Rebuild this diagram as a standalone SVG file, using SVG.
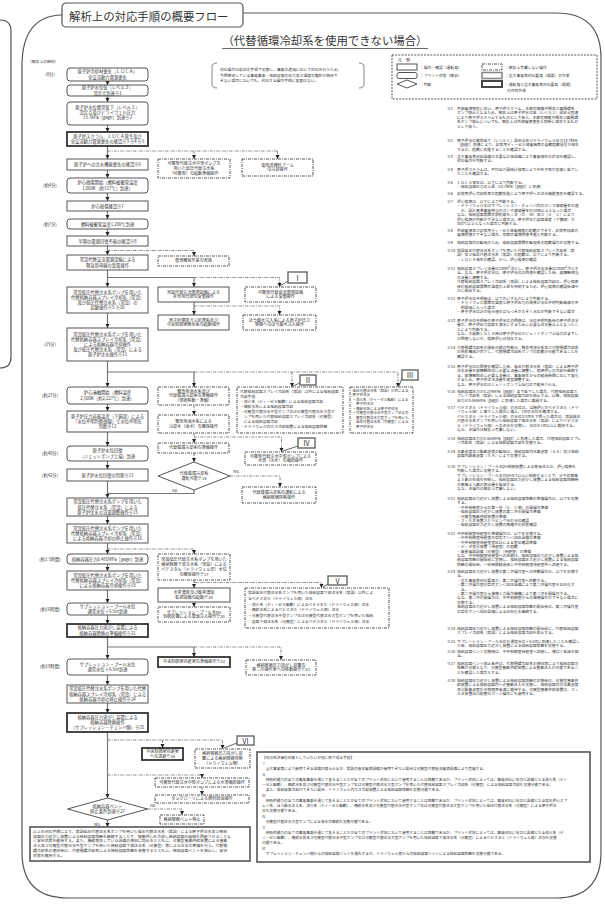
<svg xmlns="http://www.w3.org/2000/svg" width="605" height="911" viewBox="0 0 605 911">
<defs>
<marker id="ar" viewBox="0 0 6 6" refX="6" refY="3" markerWidth="4.5" markerHeight="4.5" orient="auto" markerUnits="userSpaceOnUse"><path d="M0,0L6,3L0,6z" fill="#222"/></marker>
<style>
text{font-family:"Noto Sans CJK JP","Noto Sans",sans-serif;fill:#333}
.b{fill:#fff;stroke:#555;stroke-width:1}
.t{fill:#fff;stroke:#333;stroke-width:1.8}
.g{fill:#fff;stroke:#888;stroke-width:1.6}
.d{fill:#fff;stroke:#444;stroke-width:.9;stroke-dasharray:3 1 1 1}
.c{fill:none;stroke:#777;stroke-width:1.2}
.cd{fill:none;stroke:#888;stroke-width:1;stroke-dasharray:3 1.2 1 1.2}
.ca{marker-end:url(#ar)}
.bt{font-size:4.3px;text-anchor:middle}
.st{font-size:4.1px;text-anchor:middle}
.nt{font-size:3.8px}
.bn{font-size:3.7px}
.tm{font-size:4.2px;text-anchor:middle}
.lb{font-size:7px;text-anchor:middle}
.lbx{fill:#fff;stroke:#666;stroke-width:1.4}
.fr{fill:none;stroke:#555;stroke-width:1.2}
</style>
</defs>

<g id="frame">
<path class="fr" d="M0,20 Q11,20 11,31 V357 Q11,368 0,368"/>
<path class="fr" d="M243,13 H556 Q601,13 601,58 V852 Q601,898 556,898 H68 Q22,898 22,852 V66 Q22,16 62,15"/>
<rect x="62" y="3" width="181" height="24" rx="4" fill="#fff" stroke="#555" stroke-width="1.2"/>
<text x="69" y="20.5" style="font-size:11.4px">解析上の対応手順の概要フロー</text>
<text x="325" y="45" style="font-size:11.4px;text-anchor:middle">（代替循環冷却系を使用できない場合）</text>
<line x1="222" y1="48.5" x2="428" y2="48.5" stroke="#444" stroke-width=".8"/>
</g>

<g id="note-top">
<path d="M217,63 Q212,63 212,67 V84 Q212,88 217,88" fill="none" stroke="#666" stroke-width=".8"/>
<path d="M359,63 Q364,63 364,67 V84 Q364,88 359,88" fill="none" stroke="#666" stroke-width=".8"/>
<text class="nt"><tspan x="220" y="71">対応操作は前述の手順で実施し、事象の進展に応じて対応を行うため、</tspan><tspan x="220" dy="5.5">今回想定している事故事象・格納容器の圧力及び温度の推移が特定で</tspan><tspan x="220" dy="5.5">きない場合においても、対応する操作手順に変更はない。</tspan></text>
</g>

<g id="legend">
<rect x="392" y="55" width="205" height="44" fill="none" stroke="#444" stroke-width=".9" stroke-dasharray="2 1.2"/>
<text x="398" y="61.5" style="font-size:4px">凡　例</text>
<rect x="397" y="64" width="20" height="6" class="b"/>
<rect x="397" y="72.5" width="20" height="6" rx="2" class="b"/>
<path d="M397,84 L407,80 L417,84 L407,88 Z" class="b"/>
<rect x="482" y="64" width="20" height="6" class="d"/>
<rect x="482" y="72.5" width="20" height="6" class="g"/>
<rect x="482" y="81" width="20" height="6" class="t"/>
<text class="nt"><tspan x="420" y="68.5">：操作・確認（運転員）</tspan><tspan x="420" y="77">：プラント状態（解析）</tspan><tspan x="420" y="85.5">：判断</tspan><tspan x="505" y="68.5">：解析上考慮しない操作</tspan><tspan x="505" y="77">：重大事故等対応要員（現場）の作業</tspan><tspan x="505" y="85.5">：運転員と重大事故等対応要員（現場）</tspan><tspan x="507" y="92">の共同作業</tspan></text>
</g>

<g id="time-labels">
<text x="28" y="63" style="font-size:3.8px">（解析上の時刻）</text>
<text class="tm" x="50" y="76">（0分）</text>
<text class="tm" x="50" y="187">（約4分）</text>
<text class="tm" x="50" y="226">（約7分）</text>
<text class="tm" x="50" y="346">（25分）</text>
<text class="tm" x="50" y="397">（約27分）</text>
<text class="tm" x="50" y="455">（約40分）</text>
<text class="tm" x="50" y="477">（約42分）</text>
<text class="tm" x="50" y="561">（約1.5時間）</text>
<text class="tm" x="50" y="611">（約16時間）</text>
<text class="tm" x="50" y="668">（約19時間）</text>
</g>

<g id="connectors">
<path class="c ca" d="M107.5,81V85"/>
<path class="c ca" d="M107.5,96V102"/>
<path class="c ca" d="M107.5,125V132"/>
<path class="c ca" d="M107.5,146V159"/>
<path class="c ca" d="M107.5,170V178"/>
<path class="c ca" d="M107.5,193V201"/>
<path class="c ca" d="M107.5,211V219"/>
<path class="c ca" d="M107.5,229V236"/>
<path class="c ca" d="M107.5,246V255"/>
<path class="c ca" d="M107.5,270V287"/>
<path class="c ca" d="M107.5,313V328"/>
<path class="c ca" d="M107.5,361V387"/>
<path class="c ca" d="M107.5,404V411"/>
<path class="c ca" d="M107.5,432V446"/>
<path class="c ca" d="M107.5,461V469"/>
<path class="c ca" d="M107.5,481V498"/>
<path class="c ca" d="M107.5,516V524"/>
<path class="c ca" d="M107.5,543V554"/>
<path class="c ca" d="M107.5,564V571"/>
<path class="c ca" d="M107.5,590V603"/>
<path class="c ca" d="M107.5,615V624"/>
<path class="c ca" d="M107.5,637V659"/>
<path class="c ca" d="M107.5,675V685"/>
<path class="c ca" d="M107.5,703V713"/>
<path class="c ca" d="M107.5,732V798"/>
<path class="c ca" d="M107.5,820V827"/>
<path class="cd" d="M107.5,151H277.5"/>
<path class="cd ca" d="M194,151V159"/>
<path class="cd ca" d="M277.5,151V159"/>
<path class="cd ca" d="M107.5,250.5H194V256"/>
<path class="c ca" d="M107.5,277.5H194V287"/>
<path class="cd ca" d="M194,277.5H279.5V287"/>
<path class="c ca" d="M194,302V315"/>
<path class="cd ca" d="M194,306H279.5V315"/>
<path class="c ca" d="M107.5,372H194V387"/>
<path class="cd ca" d="M194,372H398V387"/>
<path class="cd ca" d="M292,372V387"/>
<path class="cd ca" d="M194,405V415"/>
<path class="cd ca" d="M194,433V443"/>
<path class="cd ca" d="M194,437H281.5V452"/>
<path class="cd ca" d="M194,453V462"/>
<path class="c" d="M194,490V493.5H107.5"/>
<path class="cd ca" d="M230,476H280V487"/>
<path class="cd ca" d="M107.5,549H194V554"/>
<path class="cd ca" d="M194,580V588"/>
<path class="cd ca" d="M194,582.5H321.5V588"/>
<path class="cd ca" d="M194,602V607"/>
<path class="c ca" d="M107.5,647H194V657"/>
<path class="cd ca" d="M194,647H281V660"/>
<path class="cd ca" d="M107.5,740H222.5V749"/>
<path class="cd ca" d="M162.5,740V748"/>
<path class="cd ca" d="M107.5,775H202V778"/>
<path class="cd ca" d="M202,787V795"/>
<path class="cd ca" d="M147.5,809H182V815"/>
<path d="M288,281L280,286 M300,383L293,386 M402,378L399,386 M298,446L283,451 M328,584L323,587 M237,743L224,748" fill="none" stroke="#555" stroke-width=".9"/>
<text x="172" y="491.5" style="font-size:3.8px">No</text>
<text x="233" y="473" style="font-size:3.8px">Yes</text>
<text x="150" y="806.5" style="font-size:3.8px">No</text>
<text x="94" y="825.5" style="font-size:3.8px">Yes</text>
</g>

<g id="n-b1"><rect x="67" y="68" width="81" height="13" rx="3" class="b"/><text class="bt"><tspan x="107.5" y="73.45">原子炉冷却材喪失（ＬＯＣＡ）</tspan><tspan x="107.5" y="78.55">全交流動力電源喪失</tspan></text></g>
<g id="n-b2"><rect x="67" y="85" width="81" height="11" rx="3" class="b"/><text class="bt"><tspan x="107.5" y="89.45">原子炉水位低（レベル３）</tspan><tspan x="107.5" y="94.55">設定点到達※1</tspan></text></g>
<g id="n-b3"><rect x="67" y="102" width="81" height="23" rx="3" class="b"/><text class="bt"><tspan x="107.5" y="108.9">原子炉水位異常低下（レベル１）</tspan><tspan x="107.5" y="114">設定点及びドライウェル圧力</tspan><tspan x="107.5" y="119.1">13.7kPa［gage］到達※2</tspan></text></g>
<g id="n-b4"><rect x="67" y="132" width="81" height="14" class="t"/><text class="bt"><tspan x="107.5" y="137.95">原子炉スクラム、ＬＯＣＡ発生及び</tspan><tspan x="107.5" y="143.05">全交流動力電源喪失の確認※3 ※4 ※5</tspan></text></g>
<g id="n-b5"><rect x="67" y="159" width="81" height="11" class="b"/><text class="bt" x="107.5" y="166">原子炉への注水機能喪失の確認※6</text></g>
<g id="n-b6"><rect x="67" y="178" width="81" height="15" rx="3" class="b"/><text class="bt"><tspan x="107.5" y="184.45">炉心損傷開始（燃料被覆管温度</tspan><tspan x="107.5" y="189.55">1,000K（約727℃）到達）</tspan></text></g>
<g id="n-b7"><rect x="67" y="201" width="81" height="10" class="b"/><text class="bt" x="107.5" y="207.5">炉心損傷確認※7</text></g>
<g id="n-b8"><rect x="67" y="219" width="81" height="10" rx="3" class="b"/><text class="bt" x="107.5" y="225.5">燃料被覆管温度1,200℃到達</text></g>
<g id="n-b9"><rect x="67" y="236" width="81" height="10" class="b"/><text class="bt" x="107.5" y="242.5">早期の電源回復不能の確認※8</text></g>
<g id="n-b10"><rect x="67" y="255" width="81" height="15" class="b"/><text class="bt"><tspan x="107.5" y="261.45">常設代替交流電源設備による</tspan><tspan x="107.5" y="266.55">緊急用母線の受電操作</tspan></text></g>
<g id="n-b11"><rect x="67" y="287" width="81" height="26" class="b"/><text class="bt"><tspan x="107.5" y="293.85">常設低圧代替注水系ポンプを用いた</tspan><tspan x="107.5" y="298.95">代替格納容器スプレイ冷却系（常設）</tspan><tspan x="107.5" y="304.05">及び低圧代替注水系（常設）の</tspan><tspan x="107.5" y="309.15">起動操作※9 ※10</tspan></text></g>
<g id="n-b12"><rect x="67" y="328" width="81" height="33" class="b"/><text class="bt"><tspan x="107.5" y="335.8">常設低圧代替注水系ポンプを用いた</tspan><tspan x="107.5" y="340.9">代替格納容器スプレイ冷却系（常設）</tspan><tspan x="107.5" y="346">による格納容器冷却操作</tspan><tspan x="107.5" y="351.1">及び低圧代替注水系（常設）による</tspan><tspan x="107.5" y="356.2">原子炉注水操作※11</tspan></text></g>
<g id="n-b13"><rect x="67" y="387" width="81" height="17" rx="3" class="b"/><text class="bt"><tspan x="107.5" y="394.45">炉心溶融開始（燃料温度</tspan><tspan x="107.5" y="399.55">2,500K（約2,227℃）到達）</tspan></text></g>
<g id="n-b14"><rect x="67" y="411" width="81" height="21" class="b"/><text class="bt"><tspan x="107.5" y="417.9">原子炉圧力容器温度（下鏡部）による</tspan><tspan x="107.5" y="423">「水位不明判断曲線」で水位不明を</tspan><tspan x="107.5" y="428.1">判断※12</tspan></text></g>
<g id="n-b15"><rect x="67" y="446" width="81" height="15" rx="3" class="b"/><text class="bt"><tspan x="107.5" y="452.45">原子炉水位回復</tspan><tspan x="107.5" y="457.55">（ジェットポンプ上端）到達</tspan></text></g>
<g id="n-b16"><rect x="67" y="469" width="81" height="12" class="b"/><text class="bt" x="107.5" y="476.5">原子炉水位回復の判断※13</text></g>
<g id="n-b17"><rect x="67" y="498" width="81" height="18" class="b"/><text class="bt"><tspan x="107.5" y="503.4">常設低圧代替注水系ポンプを用いた</tspan><tspan x="107.5" y="508.5">低圧代替注水系（常設）による</tspan><tspan x="107.5" y="513.6">原子炉注水の流量調整操作※15</tspan></text></g>
<g id="n-b18"><rect x="67" y="524" width="81" height="19" class="b"/><text class="bt"><tspan x="107.5" y="529.9">常設低圧代替注水系ポンプを用いた</tspan><tspan x="107.5" y="535">代替格納容器スプレイ冷却系（常設）</tspan><tspan x="107.5" y="540.1">による格納容器冷却の停止操作※16</tspan></text></g>
<g id="n-b19"><rect x="67" y="554" width="81" height="10" rx="3" class="b"/><text class="bt" x="107.5" y="560.5">格納容器圧力0.465MPa［gage］到達</text></g>
<g id="n-b20"><rect x="67" y="571" width="81" height="19" class="b"/><text class="bt"><tspan x="107.5" y="576.9">常設低圧代替注水系ポンプを用いた</tspan><tspan x="107.5" y="582">代替格納容器スプレイ冷却系（常設）</tspan><tspan x="107.5" y="587.1">による格納容器冷却操作※18</tspan></text></g>
<g id="n-b21"><rect x="67" y="603" width="81" height="12" rx="3" class="b"/><text class="bt"><tspan x="107.5" y="607.95">サプレッション・プール水位</tspan><tspan x="107.5" y="613.05">通常水位＋5.5m到達</tspan></text></g>
<g id="n-b22"><rect x="67" y="624" width="81" height="13" class="t"/><text class="bt"><tspan x="107.5" y="629.45">格納容器圧力逃がし装置による</tspan><tspan x="107.5" y="634.55">格納容器除熱の準備操作※21</tspan></text></g>
<g id="n-b23"><rect x="67" y="659" width="81" height="16" rx="3" class="b"/><text class="bt"><tspan x="107.5" y="665.95">サプレッション・プール水位</tspan><tspan x="107.5" y="671.05">通常水位＋6.5m到達</tspan></text></g>
<g id="n-b24"><rect x="67" y="685" width="81" height="18" class="b"/><text class="bt"><tspan x="107.5" y="690.4">常設低圧代替注水系ポンプを用いた代替</tspan><tspan x="107.5" y="695.5">格納容器スプレイ冷却系（常設）による</tspan><tspan x="107.5" y="700.6">格納容器冷却の停止操作※24</tspan></text></g>
<g id="n-b25"><rect x="67" y="713" width="81" height="19" class="t"/><text class="bt"><tspan x="107.5" y="718.9">格納容器圧力逃がし装置による</tspan><tspan x="107.5" y="724">格納容器除熱操作</tspan><tspan x="107.5" y="729.1">（サプレッション・チェンバ側）※25</tspan></text></g>
<g id="n-d2"><path d="M107.5,798 L147.5,809 L107.5,820 L67.5,809 Z" class="b"/><text class="bt"><tspan x="107.5" y="808">格納容器ベント</tspan><tspan x="107.5" y="812.9">停止条件到達※27</tspan></text></g>
<g id="n-final"><rect x="30" y="827" width="220" height="34" fill="#fff" stroke="#555" stroke-width="1.6"/><text style="font-size:3.9px"><tspan x="33" y="833">以上の対応手順により、常設低圧代替注水系ポンプを用いた低圧代替注水系（常設）による原子炉注水及び格納</tspan><tspan x="33" dy="4.7">容器圧力逃がし装置による格納容器除熱を継続することで、損傷炉心を冷却し格納容器の破損を回避させることな</tspan><tspan x="33" dy="4.7">く安定状態を維持する。また、機能喪失している設備の復旧に努めるとともに、可搬型窒素供給装置による窒素</tspan><tspan x="33" dy="4.7">注入及び可搬型代替注水中型ポンプを用いた格納容器下部注水系（可搬型）等による注水の準備を行う。代替循</tspan><tspan x="33" dy="4.7">環冷却系の復旧後は、代替循環冷却系による格納容器除熱を実施するとともに、格納容器ベントを停止し、安定</tspan><tspan x="33" dy="4.7">状態を維持する。</tspan></text></g>

<g id="n-rd1"><rect x="158" y="159" width="72" height="19" class="d"/><text class="st"><tspan x="194" y="165.05">可搬型代替注水中型ポンプを</tspan><tspan x="194" y="169.95">用いた低圧代替注水系</tspan><tspan x="194" y="174.85">（可搬型）の起動準備操作</tspan></text></g>
<g id="n-rd2"><rect x="242" y="159" width="71" height="17" class="d"/><text class="st"><tspan x="277.5" y="166.5">使用済燃料プール</tspan><tspan x="277.5" y="171.4">の冷却操作</tspan></text></g>
<g id="n-rd3"><rect x="158" y="256" width="71" height="10" class="d"/><text class="st" x="193.5" y="262.45">電源確保作業の実施</text></g>
<g id="n-rb1"><rect x="158" y="287" width="71" height="15" class="b"/><text class="st"><tspan x="193.5" y="293.5">常設代替交流電源設備による</tspan><tspan x="193.5" y="298.4">非常用母線の受電操作</tspan></text></g>
<g id="n-rd4"><rect x="245" y="287" width="71" height="15" class="d"/><text class="st"><tspan x="280.5" y="293.5">可搬型代替直流電源設備</tspan><tspan x="280.5" y="298.4">による受電操作</tspan></text></g>
<g id="n-rb2"><rect x="158" y="315" width="71" height="15" class="b"/><text class="st"><tspan x="193.5" y="321.5">原子炉建屋ガス処理系及び</tspan><tspan x="193.5" y="326.4">中央制御室換気系の起動操作</tspan></text></g>
<g id="n-rd5"><rect x="243" y="315" width="73" height="15" class="d"/><text class="st"><tspan x="279.5" y="321.5">ほう酸水注入系による原子炉圧力</tspan><tspan x="279.5" y="326.4">容器へのほう酸水注入操作</tspan></text></g>
<g id="n-rd6"><rect x="158" y="387" width="71" height="18" class="d"/><text class="st"><tspan x="193.5" y="392.55">緊急用海水系及び</tspan><tspan x="193.5" y="397.45">代替循環冷却系の準備操作</tspan><tspan x="193.5" y="402.35">（現場移動・準備）</tspan></text></g>
<g id="n-rd7"><rect x="158" y="415" width="71" height="18" class="d"/><text class="st"><tspan x="193.5" y="423">緊急用海水系による</tspan><tspan x="193.5" y="427.9">冷却水（海水）の確保操作</tspan></text></g>
<g id="n-rd8"><rect x="158" y="443" width="71" height="10" class="d"/><text class="st" x="193.5" y="449.45">代替循環冷却系の準備操作</text></g>
<g id="n-d1"><path d="M194,462 L230,476 L194,490 L158,476 Z" class="b"/><text class="st"><tspan x="194" y="475">代替循環冷却系</tspan><tspan x="194" y="479.9">運転可能※14</tspan></text></g>
<g id="n-rd9"><rect x="242" y="487" width="74" height="16" class="d"/><text class="st"><tspan x="279" y="494">代替循環冷却系の運転による</tspan><tspan x="279" y="498.9">格納容器除熱操作</tspan></text></g>
<g id="n-rd10"><rect x="245" y="452" width="71" height="13" class="d"/><text class="st"><tspan x="280.5" y="457.5">可搬型代替注水中型ポンプによる</tspan><tspan x="280.5" y="462.4">水源（淡水）の補給操作</tspan></text></g>
<g id="n-rd11"><rect x="237" y="387" width="106" height="46" class="d"/><text class="nt"><tspan x="240" y="392.5">代替格納容器スプレイ冷却系（常設）以外による格納容器</tspan><tspan x="240" dy="5">冷却手段</tspan><tspan x="240" dy="5">・消火系（ディーゼル駆動）による格納容器冷却</tspan><tspan x="240" dy="5">・補給水系による格納容器冷却</tspan><tspan x="240" dy="5">・可搬型代替注水中型ポンプ又は可搬型代替注水大型ポ</tspan><tspan x="240" dy="5">　ンプを用いた代替格納容器スプレイ冷却系（可搬型）</tspan><tspan x="240" dy="5">　による格納容器冷却</tspan><tspan x="240" dy="5">・ドライウェル内ガス冷却装置による格納容器除熱</tspan></text></g>
<g id="n-rd12"><rect x="350" y="387" width="63" height="46" class="d"/><text style="font-size:3.5px"><tspan x="352.5" y="391.5">低圧代替注水系（常設）以外による</tspan><tspan x="352.5" dy="4.55">原子炉注水</tspan><tspan x="352.5" dy="4.55">・消火系（ディーゼル駆動）による</tspan><tspan x="352.5" dy="4.55">　原子炉注水</tspan><tspan x="352.5" dy="4.55">・補給水系による原子炉注水</tspan><tspan x="352.5" dy="4.55">・可搬型代替注水中型ポンプ又は可</tspan><tspan x="352.5" dy="4.55">　搬型代替注水大型ポンプを用いた</tspan><tspan x="352.5" dy="4.55">　低圧代替注水系（可搬型）による</tspan><tspan x="352.5" dy="4.55">　原子炉注水</tspan></text></g>
<g id="n-rd13"><rect x="158" y="554" width="72" height="26" class="d"/><text class="st"><tspan x="194" y="561.1">常設低圧代替注水系ポンプを用いた</tspan><tspan x="194" y="566">格納容器下部注水系（常設）による</tspan><tspan x="194" y="570.9">ペデスタル（ドライウェル部）水位</tspan><tspan x="194" y="575.8">の確保操作※17</tspan></text></g>
<g id="n-rb3"><rect x="158" y="588" width="72" height="14" class="b"/><text class="st"><tspan x="194" y="594">水素濃度及び酸素濃度</tspan><tspan x="194" y="598.9">監視設備の起動※19</tspan></text></g>
<g id="n-rd14"><rect x="158" y="607" width="72" height="15" class="d"/><text class="st"><tspan x="194" y="613.5">サプレッション・プール水pH</tspan><tspan x="194" y="618.4">制御装置による薬液注入操作※20</tspan></text></g>
<g id="n-rd15"><rect x="245" y="588" width="144" height="40" class="d"/><text class="nt"><tspan x="248" y="594">常設低圧代替注水系ポンプを用いた格納容器下部注水系（常設）以外によ</tspan><tspan x="248" dy="5.8">るペデスタル（ドライウェル部）注水</tspan><tspan x="248" dy="5.8">・消火系（ディーゼル駆動）によるペデスタル（ドライウェル部）注水</tspan><tspan x="248" dy="5.8">・補給水系によるペデスタル（ドライウェル部）注水</tspan><tspan x="248" dy="5.8">・可搬型代替注水中型ポンプ又は可搬型代替注水大型ポンプを用いた格納</tspan><tspan x="248" dy="5.8">　容器下部注水系（可搬型）によるペデスタル（ドライウェル部）注水</tspan></text></g>
<g id="n-rs"><rect x="158" y="657" width="72" height="10" class="t"/><text class="st" x="194" y="663.45">中央制御室待避室の準備操作※22</text></g>
<g id="n-rd16"><rect x="246" y="660" width="70" height="15" class="d"/><text class="st"><tspan x="281" y="666.5">格納容器圧力逃がし装置の</tspan><tspan x="281" y="671.4">第二弁操作室への移動操作※23</tspan></text></g>
<g id="n-s1"><rect x="142" y="748" width="41" height="12" class="t"/><text class="st"><tspan x="162.5" y="753">中央制御室待避室</tspan><tspan x="162.5" y="757.9">への退避※26</tspan></text></g>
<g id="n-s2"><rect x="195" y="749" width="55" height="19" class="d"/><text class="st"><tspan x="222.5" y="755.05">格納容器圧力逃がし装</tspan><tspan x="222.5" y="759.95">置による格納容器除熱</tspan><tspan x="222.5" y="764.85">（ドライウェル側）</tspan></text></g>
<g id="n-s3"><rect x="155" y="778" width="94" height="9" class="d"/><text class="st" x="202" y="783.95">可搬型代替注水中型ポンプによる水源補給操作</text></g>
<g id="n-s4"><rect x="155" y="795" width="94" height="8" class="d"/><text class="st" x="202" y="800.45">タンクローリによる燃料給油操作</text></g>
<g id="n-stop"><rect x="160" y="815" width="44" height="9" class="d"/><text class="st" x="182" y="820.95">格納容器ベント停止</text></g>

<g id="labels">
<rect x="288" y="272" width="19" height="11" class="lbx"/><text class="lb" x="297.5" y="280.5">Ⅰ</text>
<rect x="300" y="375" width="16" height="10" class="lbx"/><text class="lb" x="308" y="383">Ⅱ</text>
<rect x="402" y="370" width="16" height="10" class="lbx"/><text class="lb" x="410" y="378">Ⅲ</text>
<rect x="298" y="438" width="17" height="10" class="lbx"/><text class="lb" x="306.5" y="446">Ⅳ</text>
<rect x="328" y="576" width="19" height="9" class="lbx"/><text class="lb" x="337.5" y="583.5">Ⅴ</text>
<rect x="237" y="736" width="17" height="9" class="lbx"/><text class="lb" x="245.5" y="743.5">Ⅵ</text>
</g>

<g id="notes">
<text class="nt"><tspan x="447" y="110">※1</tspan><tspan x="457" y="110">外部電源喪失に伴い、原子炉スクラム、主蒸気隔離弁閉及び再循環系</tspan><tspan x="457" dy="4.4">ポンプ停止となるため、解析上は原子炉水位低（レベル３）設定点到達</tspan><tspan x="457" dy="4.4">により原子炉スクラムするものとして扱う。主蒸気隔離弁閉及び再循環</tspan><tspan x="457" dy="4.4">系ポンプ停止についても、解析上は外部電源喪失と同時に発生するもの</tspan><tspan x="457" dy="4.4">として扱う。</tspan></text>
<text class="nt"><tspan x="447" y="142">※2</tspan><tspan x="457" y="142">原子炉水位異常低下（レベル１）設定点及びドライウェル圧力13.7kPa</tspan><tspan x="457" dy="4.4">［gage］到達により、非常用ディーゼル発電機等の自動起動信号が発生</tspan><tspan x="457" dy="4.4">するが、起動に失敗することを確認する。</tspan></text>
<text class="nt"><tspan x="447" y="158">※3</tspan><tspan x="457" y="158">重大事故等対処設備の主要な計装設備により事象発生の状況を確認し、</tspan><tspan x="457" dy="4.4">対応操作を判断する。</tspan></text>
<text class="nt"><tspan x="447" y="171">※4</tspan><tspan x="457" y="171">原子炉スクラムは、平均出力領域計装等により中性子束が急激に低下し</tspan><tspan x="457" dy="4.4">たことを確認する。</tspan></text>
<text class="nt"><tspan x="447" y="184">※5</tspan><tspan x="457" y="184">ＬＯＣＡ発生は、以下により判断する。</tspan><tspan x="457" dy="4.4">・格納容器圧力の上昇（13.7kPa［gage］に到達）</tspan></text>
<text class="nt"><tspan x="447" y="195">※6</tspan><tspan x="457" y="195">非常用炉心冷却系等の起動失敗により原子炉への注水機能喪失を確認する。</tspan></text>
<text class="nt"><tspan x="447" y="203">※7</tspan><tspan x="457" y="203">炉心損傷は、以下により判断する。</tspan><tspan x="457" dy="4.4">・ドライウェル又はサプレッション・チェンバ内のガンマ線線量率の値</tspan><tspan x="457" dy="4.4">　が、設計基準事故相当のガンマ線線量率の10倍以上となった場合</tspan><tspan x="457" dy="4.4">なお、格納容器雰囲気放射線モニタ（Ｄ／Ｗ）及び（Ｓ／Ｃ）により</tspan><tspan x="457" dy="4.4">炉心損傷の判断ができない場合は、原子炉圧力容器温度（下鏡部）が</tspan><tspan x="457" dy="4.4">300℃以上となった場合に判断する。</tspan></text>
<text class="nt"><tspan x="447" y="232">※8</tspan><tspan x="457" y="232">外部電源及び非常用ディーゼル発電機等の起動ができず、非常用母線の</tspan><tspan x="457" dy="4.4">電源回復ができない場合、早期の電源回復不能と判断する。</tspan></text>
<text class="nt"><tspan x="447" y="244">※9</tspan><tspan x="457" y="244">格納容器内の監視のため、格納容器雰囲気監視系の起動操作を実施する。</tspan></text>
<text class="nt"><tspan x="447" y="252">※10</tspan><tspan x="457" y="252">常設低圧代替注水系ポンプを用いた代替格納容器スプレイ冷却系（常</tspan><tspan x="457" dy="4.4">設）及び低圧代替注水系（常設）の起動は、以下により判断する。</tspan><tspan x="457" dy="4.4">・ＬＯＣＡ発生の確認、かつ、炉心損傷の確認</tspan></text>
<text class="nt"><tspan x="447" y="270">※11</tspan><tspan x="457" y="270">格納容器スプレイ流量は130m³/hとし、原子炉注水流量は230m³/hとす</tspan><tspan x="457" dy="4.4">る。なお、原子炉注水は、原子炉水位の回復を確認した後、崩壊熱相当</tspan><tspan x="457" dy="4.4">の流量に調整する。</tspan><tspan x="457" dy="4.4">代替格納容器スプレイ冷却系（常設）による格納容器冷却は、炉心損傷</tspan><tspan x="457" dy="4.4">後の格納容器雰囲気温度の上昇を抑制するため、炉心損傷の確認後速や</tspan><tspan x="457" dy="4.4">かに開始する。</tspan></text>
<text class="nt"><tspan x="447" y="300">※12</tspan><tspan x="457" y="300">原子炉水位不明時は、以下のいずれかにより判断する。</tspan><tspan x="457" dy="4.4">・ドライウェル雰囲気温度と原子炉圧力の関係が水位不明判断曲線の不</tspan><tspan x="457" dy="4.4">　明領域に入った場合</tspan><tspan x="457" dy="4.4">・原子炉水位計の指示値のばらつきが大きく水位が判断できない場合</tspan></text>
<text class="nt"><tspan x="447" y="322">※13</tspan><tspan x="457" y="322">原子炉水位不明時の原子炉水位の回復は、水位不明判断後の原子炉注水</tspan><tspan x="457" dy="4.4">量が、原子炉圧力容器を満水にするために必要な注水量以上となったこ</tspan><tspan x="457" dy="4.4">とにより判断する。</tspan><tspan x="457" dy="4.4">なお、大破断ＬＯＣＡ時は原子炉水位がジェットポンプ上端付近までし</tspan><tspan x="457" dy="4.4">か回復しないが、損傷炉心は冠水する。</tspan></text>
<text class="nt"><tspan x="447" y="349">※14</tspan><tspan x="457" y="349">代替循環冷却系の運転可能の判断は、緊急用海水系及び代替循環冷却系</tspan><tspan x="457" dy="4.4">の系統構成が完了し、代替循環冷却系ポンプの起動が可能であることを</tspan><tspan x="457" dy="4.4">確認する。</tspan></text>
<text class="nt"><tspan x="447" y="368">※15</tspan><tspan x="457" y="368">原子炉水位の回復を確認した後、低圧代替注水系（常設）による原子炉</tspan><tspan x="457" dy="4.4">注水流量を崩壊熱除去に必要な流量に調整し、損傷炉心の冷却を継続す</tspan><tspan x="457" dy="4.4">る。崩壊熱除去に必要な流量は、事象発生からの経過時間に応じて変化</tspan><tspan x="457" dy="4.4">するため、原子炉注水流量を適宜調整する。</tspan><tspan x="457" dy="4.4">なお、原子炉水位はジェットポンプ上端付近で維持される。</tspan></text>
<text class="nt"><tspan x="447" y="393">※16</tspan><tspan x="457" y="393">格納容器圧力が0.279MPa［gage］まで低下した場合、代替格納容器ス</tspan><tspan x="457" dy="4.4">プレイ冷却系（常設）による格納容器冷却を停止する。以降、格納容器</tspan><tspan x="457" dy="4.4">圧力が0.465MPa［gage］に到達した場合に再開する。</tspan></text>
<text class="nt"><tspan x="447" y="409">※17</tspan><tspan x="457" y="409">ペデスタル（ドライウェル部）の水位は、溶融炉心がペデスタル（ドラ</tspan><tspan x="457" dy="4.4">イウェル部）に落下した場合に備え、1mの水位を確保する。</tspan><tspan x="457" dy="4.4">ペデスタル（ドライウェル部）の水位が1mを下回った場合は、常設低圧</tspan><tspan x="457" dy="4.4">代替注水系ポンプを用いた格納容器下部注水系（常設）によりペデスタ</tspan><tspan x="457" dy="4.4">ル（ドライウェル部）への注水を実施し、水位を1m以上に維持する。</tspan><tspan x="457" dy="4.4">なお、本操作は解析上考慮しない。</tspan></text>
<text class="nt"><tspan x="447" y="440">※18</tspan><tspan x="457" y="440">格納容器圧力が0.465MPa［gage］に到達した場合、代替格納容器スプレ</tspan><tspan x="457" dy="4.4">イ冷却系（常設）による格納容器冷却を実施する。</tspan></text>
<text class="nt"><tspan x="447" y="453">※19</tspan><tspan x="457" y="453">水素濃度及び酸素濃度の監視は、格納容器内水素濃度（ＳＡ）及び格納</tspan><tspan x="457" dy="4.4">容器内酸素濃度（ＳＡ）により実施する。</tspan></text>
<text class="nt"><tspan x="447" y="468">※20</tspan><tspan x="457" y="468">サプレッション・プール水pH制御装置による薬液注入は、炉心損傷を</tspan><tspan x="457" dy="4.4">判断した場合に実施する。</tspan><tspan x="457" dy="4.4">サプレッション・プール水のpHを7以上に制御することで、分子状無機</tspan><tspan x="457" dy="4.4">よう素の生成を抑制し、格納容器圧力逃がし装置による格納容器除熱時</tspan><tspan x="457" dy="4.4">の無機よう素の放出量を低減する。</tspan><tspan x="457" dy="4.4">なお、本操作は解析上考慮しない。</tspan></text>
<text class="nt"><tspan x="447" y="500">※21</tspan><tspan x="457" y="500">格納容器圧力逃がし装置による格納容器除熱の準備操作は、以下を実施</tspan><tspan x="457" dy="4.4">する。</tspan><tspan x="457" dy="4.4">・中央制御室からの第一弁（Ｓ／Ｃ側）の開操作準備</tspan><tspan x="457" dy="4.4">・格納容器圧力逃がし装置の第二弁の開操作準備</tspan><tspan x="457" dy="4.4">・可搬型窒素供給装置の準備</tspan><tspan x="457" dy="4.4">・フィルタ装置スクラビング水の水位確認</tspan><tspan x="457" dy="4.4">・格納容器圧力逃がし装置の隔離弁の状態確認</tspan></text>
<text class="nt"><tspan x="447" y="535">※22</tspan><tspan x="457" y="535">中央制御室待避室の準備操作は、以下を実施する。</tspan><tspan x="457" dy="4.4">・中央制御室待避室の空気ボンベ加圧設備の準備</tspan><tspan x="457" dy="4.4">・中央制御室待避室差圧計による差圧確認準備</tspan><tspan x="457" dy="4.4">・データ表示装置（待避室）の起動</tspan><tspan x="457" dy="4.4">・衛星電話設備（可搬型）（待避室）の準備</tspan><tspan x="457" dy="4.4">なお、中央制御室待避室への退避は、格納容器圧力逃がし装置による格</tspan><tspan x="457" dy="4.4">納容器除熱の開始前に実施し、格納容器圧力逃がし装置による格納容器</tspan><tspan x="457" dy="4.4">除熱の開始後、一定時間経過後に中央制御室待避室外へ退避する。</tspan></text>
<text class="nt"><tspan x="447" y="573">※23</tspan><tspan x="457" y="573">格納容器圧力逃がし装置の第二弁操作室への移動操作は、以下を実施す</tspan><tspan x="457" dy="4.4">る。</tspan><tspan x="457" dy="4.4">・重大事故等対応要員が、第二弁操作室へ移動する。</tspan><tspan x="457" dy="4.4">・第二弁操作室の空気ボンベ加圧設備により第二弁操作室を正圧化す</tspan><tspan x="457" dy="4.4">　る。</tspan><tspan x="457" dy="4.4">・第二弁操作室から遠隔人力操作機構により第二弁を開操作する。</tspan><tspan x="457" dy="4.4">なお、第二弁の開操作は、中央制御室からの遠隔操作ができない場合に</tspan><tspan x="457" dy="4.4">実施する。</tspan><tspan x="457" dy="4.4">格納容器圧力逃がし装置による格納容器除熱の開始後は、第二弁操作室</tspan><tspan x="457" dy="4.4">の空気ボンベ加圧設備による正圧化を継続する。</tspan></text>
<text class="nt"><tspan x="447" y="630">※24</tspan><tspan x="457" y="630">格納容器圧力逃がし装置による格納容器除熱の開始前に、代替格納容器</tspan><tspan x="457" dy="4.4">スプレイ冷却系（常設）による格納容器冷却を停止する。</tspan></text>
<text class="nt"><tspan x="447" y="643">※25</tspan><tspan x="457" y="643">サプレッション・プール水位が通常水位＋6.5mに到達したことを確認し</tspan><tspan x="457" dy="4.4">た後、格納容器圧力逃がし装置による格納容器除熱を実施する。</tspan></text>
<text class="nt"><tspan x="447" y="653">※26</tspan><tspan x="457" y="653">格納容器ベント実施時は、中央制御室待避室へ退避し、被ばく低減を図</tspan><tspan x="457" dy="4.4">る。</tspan></text>
<text class="nt"><tspan x="447" y="665">※27</tspan><tspan x="457" y="665">格納容器ベント停止条件は、代替循環冷却系の復旧等により格納容器の</tspan><tspan x="457" dy="4.4">除熱が可能となり、可搬型窒素供給装置による窒素注入が可能であるこ</tspan><tspan x="457" dy="4.4">とを確認した場合とする。</tspan></text>
<text class="nt"><tspan x="447" y="682">※28</tspan><tspan x="457" y="682">格納容器圧力逃がし装置による格納容器除熱の実施後は、可搬型窒素供</tspan><tspan x="457" dy="4.4">給装置による格納容器内への窒素注入を実施し、格納容器内の水素濃度</tspan><tspan x="457" dy="4.4">及び酸素濃度を可燃限界未満に維持する。可搬型窒素供給装置は、フィ</tspan><tspan x="457" dy="4.4">ルタ装置出口配管のパージ操作にも使用する。</tspan></text>
</g>

<g id="other-means">
<rect x="257" y="752" width="333" height="110" fill="#fff" stroke="#555" stroke-width="1.6"/>
<text class="bn"><tspan x="262" y="758.5">【有効性評価の対象としていないが他に取り得る手段】</tspan><tspan x="262" y="764.5">Ⅰ</tspan><tspan x="262" y="769.5">　重大事故等により使用できる設備が限られるが、常設の直流電源設備が使用できない場合は可搬型代替直流電源設備により受電する。</tspan><tspan x="262" y="775.5">Ⅱ</tspan><tspan x="262" y="780.5">　技術的能力の全ての事故事象を通じて言えることだが全てのプラント状況において使用することは困難であるが、プラント状況によっては、事故対応に有効な設備となる消火系（ディ</tspan><tspan x="262" y="785.5">ーゼル駆動）、補給水系及び可搬型代替注水中型ポンプ又は可搬型代替注水大型ポンプを用いた代替格納容器スプレイ冷却系（可搬型）による格納容器冷却も実施可能である。</tspan><tspan x="262" y="790.5">　また、格納容器冷却ができない場合、ドライウェル内ガス冷却装置による格納容器除熱も実施可能である。</tspan><tspan x="262" y="796.5">Ⅲ</tspan><tspan x="262" y="801.5">　技術的能力の全ての事故事象を通じて言えることだが全てのプラント状況において使用することは困難であるが、プラント状況によっては、事故対応に有効な設備となる高圧炉心スプ</tspan><tspan x="262" y="806.5">レイ系、ほう酸水注入系、消火系（ディーゼル駆動）、補給水系及び可搬型代替注水中型ポンプ又は可搬型代替注水大型ポンプを用いた低圧代替注水系（可搬型）による原子炉注</tspan><tspan x="262" y="811.5">水も実施可能である。</tspan><tspan x="262" y="817.5">Ⅳ</tspan><tspan x="262" y="822.5">　可搬型代替注水大型ポンプによる海水の補給も実施可能である。</tspan><tspan x="262" y="828.5">Ⅴ</tspan><tspan x="262" y="833.5">　技術的能力の全ての事故事象を通じて言えることだが全てのプラント状況において使用することは困難であるが、プラント状況によっては、事故対応に有効な設備となる消火系（デ</tspan><tspan x="262" y="838.5">ィーゼル駆動）、補給水系及び可搬型代替注水中型ポンプ又は可搬型代替注水大型ポンプを用いた格納容器下部注水系（可搬型）によるペデスタル（ドライウェル部）注水も実施</tspan><tspan x="262" y="843.5">可能である。</tspan><tspan x="262" y="849.5">Ⅵ</tspan><tspan x="262" y="854.5">　サプレッション・チェンバ側からの格納容器ベントを優先するが、ドライウェル側からの格納容器ベントによる格納容器除熱も実施可能である。</tspan></text>
</g>
</svg>
